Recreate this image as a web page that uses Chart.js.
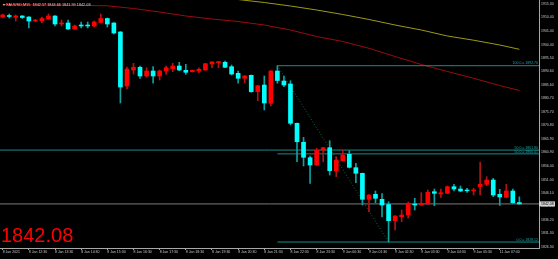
<!DOCTYPE html>
<html>
<head>
<meta charset="utf-8">
<title>XAUUSD,M15</title>
<script src="https://cdn.jsdelivr.net/npm/chart.js@4.4.1/dist/chart.umd.min.js"></script>
<style>
  html, body { margin: 0; padding: 0; background: #000; }
  canvas { display: block; }
</style>
</head>
<body>
<canvas id="chart" width="558" height="259"></canvas>
<script>
const symbol = 'XAUUSD,M15';

// M15 bars, oldest first
const barOpen = [
  1910.54, 1911.09, 1910.43, 1910.91, 1910.54, 1909.08, 1909.08, 1909.81, 1910.91, 1907.98,
  1908.35, 1906.15, 1907.61, 1907.61, 1907.25, 1908.53, 1909.99, 1908.35, 1905.05, 1885.27,
  1891.13, 1892.12, 1888.93, 1890.76, 1888.93, 1890.76, 1891.61, 1892.59, 1891.02, 1890.51,
  1890.76, 1891.13, 1893.33, 1893.80, 1893.95, 1892.34, 1889.92, 1888.09, 1889.19, 1883.18,
  1885.63, 1878.93, 1890.76, 1887.10, 1886.00, 1871.61, 1864.65, 1859.00, 1856.33, 1861.75,
  1862.67, 1854.13, 1857.91, 1860.25, 1855.34, 1853.29, 1843.77, 1845.60, 1843.77, 1841.86,
  1835.93, 1837.39, 1838.02, 1842.04, 1841.68, 1842.04, 1846.55, 1845.71, 1845.96, 1848.38,
  1847.54, 1847.17, 1846.88, 1848.38, 1849.26, 1850.84, 1845.60, 1844.50, 1846.81, 1842.57
];
const barHigh = [
  1911.64, 1911.64, 1911.28, 1911.09, 1910.73, 1909.63, 1910.54, 1911.64, 1911.09, 1909.44,
  1909.44, 1907.61, 1908.71, 1908.71, 1909.08, 1911.64, 1910.18, 1908.53, 1905.23, 1892.23,
  1893.58, 1892.59, 1891.97, 1892.34, 1891.13, 1892.59, 1893.58, 1893.95, 1893.22, 1891.13,
  1891.97, 1893.58, 1894.24, 1894.32, 1894.43, 1892.96, 1890.76, 1889.11, 1889.30, 1885.52,
  1888.93, 1890.95, 1892.70, 1888.93, 1887.21, 1871.72, 1866.48, 1859.63, 1862.45, 1862.81,
  1865.23, 1859.37, 1861.82, 1861.57, 1856.95, 1853.40, 1845.52, 1846.81, 1845.89, 1842.89,
  1837.83, 1839.85, 1842.78, 1844.13, 1846.18, 1847.17, 1847.54, 1847.54, 1848.64, 1849.26,
  1848.64, 1847.80, 1847.80, 1857.43, 1852.04, 1851.46, 1847.43, 1849.26, 1847.54, 1844.66
];
const barLow = [
  1910.18, 1910.18, 1909.08, 1909.99, 1906.51, 1908.89, 1908.35, 1909.63, 1907.25, 1907.25,
  1905.96, 1905.96, 1906.51, 1906.51, 1906.88, 1908.35, 1906.88, 1904.32, 1879.04, 1884.17,
  1889.66, 1888.09, 1888.46, 1886.26, 1887.47, 1889.55, 1890.51, 1890.87, 1889.55, 1890.40,
  1890.14, 1891.02, 1891.97, 1891.97, 1891.97, 1889.30, 1886.26, 1886.48, 1882.96, 1879.88,
  1876.48, 1877.94, 1886.26, 1885.01, 1870.98, 1857.54, 1855.96, 1849.63, 1856.15, 1857.54,
  1852.67, 1852.04, 1857.80, 1855.23, 1849.85, 1841.68, 1839.22, 1842.52, 1837.28, 1828.12,
  1832.52, 1835.56, 1836.92, 1839.85, 1841.50, 1841.86, 1841.42, 1844.50, 1845.82, 1846.81,
  1846.55, 1846.33, 1845.34, 1845.34, 1848.75, 1844.72, 1841.50, 1844.32, 1842.30, 1841.99
];
const barClose = [
  1911.28, 1910.73, 1910.91, 1910.36, 1909.08, 1909.44, 1909.99, 1910.91, 1907.98, 1908.35,
  1906.15, 1907.25, 1907.25, 1907.25, 1908.71, 1909.99, 1907.98, 1904.68, 1884.90, 1891.50,
  1892.12, 1888.93, 1890.76, 1888.93, 1890.76, 1891.97, 1892.59, 1891.13, 1890.29, 1891.02,
  1891.39, 1893.44, 1894.06, 1894.17, 1892.12, 1889.66, 1888.09, 1888.93, 1883.18, 1885.38,
  1879.04, 1890.76, 1887.28, 1885.63, 1871.61, 1864.86, 1859.15, 1856.33, 1861.70, 1862.67,
  1854.24, 1858.16, 1859.99, 1855.49, 1853.29, 1843.77, 1845.34, 1844.13, 1841.68, 1835.93,
  1837.65, 1838.02, 1842.04, 1841.68, 1842.30, 1846.33, 1845.96, 1846.18, 1848.38, 1847.54,
  1846.81, 1846.88, 1847.17, 1849.26, 1850.84, 1845.34, 1844.61, 1846.81, 1842.52, 1842.08
];

// moving averages, read at some bars
const redMaBars = [0, 8, 16, 20, 24, 28, 32, 36, 40, 44, 48, 52, 56, 60, 64, 68, 72, 76, 79];
const redMaValues = [
  1915.12, 1914.94, 1914.65, 1913.66, 1912.37, 1910.91, 1909.81, 1908.89, 1907.61, 1905.78,
  1903.40, 1901.57, 1899.08, 1896.07, 1893.14, 1890.58, 1888.09, 1885.45, 1883.62
];
const yellowMaBars = [32, 36, 40, 44, 48, 52, 56, 60, 64, 68, 72, 76, 79];
const yellowMaValues = [
  1917.69, 1916.95, 1915.85, 1914.57, 1913.11, 1911.46, 1909.63, 1907.61, 1905.78, 1903.58,
  1902.04, 1900.29, 1898.71
];

// fibonacci from bar 42 high to bar 59 low
const fibBars = [42, 59];
const fibPrices = [1892.70, 1828.12];
const fibLevels = [100.0, 50.0, 0.0];
// horizontal level across the whole chart
const levelPrice = 1861.80;
const levelName = '50.0';

const xTickBars = [0, 4, 8, 12, 16, 20, 24, 28, 32, 36, 40, 44, 48, 52, 56, 60, 64, 68, 72, 76];
const xTickLabels = [
  '8 Jan 2021', '8 Jan 12:30', '8 Jan 13:30', '8 Jan 14:30', '8 Jan 15:30', '8 Jan 16:30',
  '8 Jan 17:30', '8 Jan 18:30', '8 Jan 19:30', '8 Jan 20:30', '8 Jan 21:30', '8 Jan 22:30',
  '8 Jan 23:30', '9 Jan 00:30', '9 Jan 01:30', '9 Jan 02:30', '9 Jan 03:30', '9 Jan 04:30',
  '9 Jan 05:30', '11 Jan 07:40'
];
const yTickLabels = [
  '1915.30', '1910.40', '1905.40', '1900.40', '1895.50', '1890.60', '1885.60', '1880.70',
  '1875.70', '1870.80', '1865.90', '1860.90', '1856.00', '1851.00', '1846.10', '1841.20',
  '1836.20', '1831.30', '1826.30'
];

const UP = '#ff0000', DOWN = '#00ffff';
const UP_WICK = '#b01515', DOWN_WICK = '#10a0a0';
const FIB = '#178c8c';
const AXIS = '#a8a8a8', AXIS_TEXT = '#c8c8c8';
const SMALL = { size: 3.5, family: '"Liberation Sans", Arial, sans-serif' };

const xMin = -0.41, xMax = 82;
const lastBar = barClose.length - 1;
const lastClose = barClose[lastBar];

const isUp = i => barClose[i] >= barOpen[i];
const fibPrice = lvl => fibPrices[1] + (fibPrices[0] - fibPrices[1]) * lvl / 100;

const datasets = [
  {
    label: 'wicks',
    data: barHigh.map((h, i) => ({ x: i, y: [barLow[i], h] })),
    backgroundColor: barHigh.map((h, i) => isUp(i) ? UP_WICK : DOWN_WICK),
    barThickness: 1,
    grouped: false,
    order: 1
  },
  {
    label: 'bodies',
    data: barOpen.map((o, i) => ({ x: i, y: [o, barClose[i]] })),
    backgroundColor: barOpen.map((o, i) => isUp(i) ? UP : DOWN),
    barThickness: 4,
    grouped: false,
    order: 0
  },
  {
    type: 'line',
    label: 'ma red',
    data: redMaBars.map((b, i) => ({ x: b, y: redMaValues[i] })),
    borderColor: '#9a0c0c',
    borderWidth: 1,
    pointRadius: 0,
    order: 3
  },
  {
    type: 'line',
    label: 'ma yellow',
    data: yellowMaBars.map((b, i) => ({ x: b, y: yellowMaValues[i] })),
    borderColor: '#9d9a12',
    borderWidth: 1,
    pointRadius: 0,
    order: 3
  },
  {
    type: 'line',
    label: 'level',
    data: [{ x: xMin, y: levelPrice }, { x: xMax, y: levelPrice }],
    borderColor: FIB,
    borderWidth: 1,
    pointRadius: 0,
    order: 2
  },
  {
    type: 'line',
    label: 'last',
    data: [{ x: xMin, y: lastClose }, { x: xMax, y: lastClose }],
    borderColor: '#7a7a7a',
    borderWidth: 1,
    pointRadius: 0,
    order: 2
  },
  {
    type: 'line',
    label: 'fib trend',
    data: [{ x: fibBars[0], y: fibPrices[0] }, { x: fibBars[1], y: fibPrices[1] }],
    borderColor: '#0f6b3a',
    borderWidth: 1,
    borderDash: [1, 2],
    pointRadius: 0,
    order: 2
  }
];

fibLevels.forEach(lvl => {
  datasets.push({
    type: 'line',
    label: 'fib ' + lvl,
    data: [{ x: fibBars[0], y: fibPrice(lvl) }, { x: xMax, y: fibPrice(lvl) }],
    borderColor: FIB,
    borderWidth: 1,
    pointRadius: 0,
    order: 2
  });
});

const overlayText = {
  id: 'overlayText',
  afterDraw(chart) {
    const { ctx, chartArea, scales } = chart;
    const y = scales.y;
    ctx.save();

    // header
    ctx.font = '3.8px "Liberation Sans", Arial, sans-serif';
    ctx.fillStyle = '#d0d0d0';
    ctx.textAlign = 'left';
    ctx.textBaseline = 'middle';
    ctx.fillText('\u25BE ' + symbol + '  ' + [barOpen[lastBar], barHigh[lastBar], barLow[lastBar], lastClose]
      .map(v => v.toFixed(2)).join(' '), 3, 5);

    // fib labels
    ctx.font = '3.5px "Liberation Sans", Arial, sans-serif';
    ctx.fillStyle = '#1fa5a5';
    ctx.textAlign = 'right';
    ctx.textBaseline = 'bottom';
    fibLevels.forEach(lvl => {
      const p = fibPrice(lvl);
      ctx.fillText(lvl.toFixed(1) + ' = ' + p.toFixed(2), chartArea.right - 1, y.getPixelForValue(p) - 0.5);
    });
    ctx.fillText(levelName + ' = ' + levelPrice.toFixed(2), chartArea.right - 1, y.getPixelForValue(levelPrice) - 0.5);

    // last price box on the axis
    const ly = y.getPixelForValue(lastClose);
    ctx.fillStyle = '#d4d4d4';
    ctx.fillRect(chartArea.right, ly - 2.5, 16, 5);
    ctx.fillStyle = '#000';
    ctx.textAlign = 'left';
    ctx.textBaseline = 'middle';
    ctx.fillText(lastClose.toFixed(2), chartArea.right + 2, ly);

    // big price
    ctx.font = '20px "Liberation Sans", Arial, sans-serif';
    ctx.fillStyle = '#ff0000';
    ctx.textBaseline = 'alphabetic';
    ctx.fillText(lastClose.toFixed(2), 1, 242);

    ctx.restore();
  }
};

new Chart(document.getElementById('chart'), {
  type: 'bar',
  data: { datasets },
  options: {
    responsive: false,
    animation: false,
    events: [],
    layout: { padding: 0 },
    plugins: { legend: { display: false }, tooltip: { enabled: false } },
    scales: {
      x: {
        type: 'linear',
        min: xMin,
        max: xMax,
        offset: false,
        border: { display: true, color: AXIS, width: 1 },
        grid: { offset: false, drawOnChartArea: false, drawTicks: true, tickLength: 2, color: AXIS },
        ticks: {
          autoSkip: false,
          maxRotation: 0,
          minRotation: 0,
          align: 'start',
          padding: 0,
          color: AXIS_TEXT,
          font: SMALL,
          callback: v => xTickLabels[xTickBars.indexOf(v)]
        },
        afterBuildTicks: s => { s.ticks = xTickBars.map(v => ({ value: v })); },
        afterFit: s => { s.height = 11; s.paddingLeft = 0; s.paddingRight = 0; }
      },
      y: {
        position: 'right',
        min: 1825.93,
        max: 1916.77,
        beginAtZero: false,
        border: { display: true, color: AXIS, width: 1 },
        grid: { drawOnChartArea: false, drawTicks: true, tickLength: 1, color: AXIS },
        ticks: {
          autoSkip: false,
          padding: 1,
          color: AXIS_TEXT,
          font: SMALL,
          callback: (v, i) => yTickLabels[i]
        },
        afterBuildTicks: s => { s.ticks = yTickLabels.map(t => ({ value: parseFloat(t) })); },
        afterFit: s => { s.width = 19; s.paddingTop = 0; s.paddingBottom = 0; }
      }
    }
  },
  plugins: [overlayText]
});
</script>
</body>
</html>
